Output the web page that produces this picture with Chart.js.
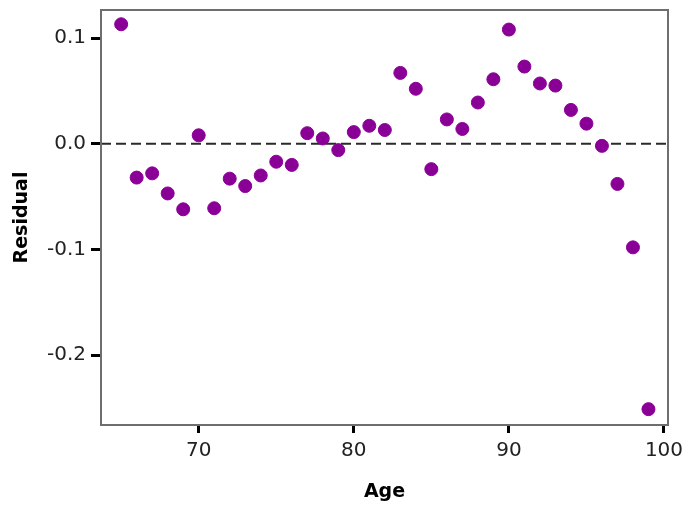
<!DOCTYPE html>
<html>
<head>
<meta charset="utf-8">
<title>Residual vs Age</title>
<script src="https://cdn.jsdelivr.net/npm/chart.js@4"></script>
<style>
  html, body { margin: 0; padding: 0; background: #fff; }
  #wrap { width: 695px; height: 514px; }
</style>
</head>
<body>
<div id="wrap"><canvas id="chart" width="695" height="514"></canvas></div>
<script>
// Data
const ages = [65, 66, 67, 68, 69, 70, 71, 72, 73, 74, 75, 76, 77, 78, 79, 80, 81, 82,
              83, 84, 85, 86, 87, 88, 89, 90, 91, 92, 93, 94, 95, 96, 97, 98, 99];
const residuals = [0.113, -0.032, -0.028, -0.047, -0.062, 0.008, -0.061, -0.033, -0.040,
                   -0.030, -0.017, -0.020, 0.010, 0.005, -0.006, 0.011, 0.017, 0.013,
                   0.067, 0.052, -0.024, 0.023, 0.014, 0.039, 0.061, 0.108, 0.073,
                   0.057, 0.055, 0.032, 0.019, -0.002, -0.038, -0.098, -0.251];
const xTicks = [70, 80, 90, 100];
const yTicks = [-0.2, -0.1, 0.0, 0.1];
const xRange = [63.7, 100.26];
const yRange = [-0.266, 0.1265];

// Box around the plot area
const framePlugin = {
    id: 'frame',
    afterDraw(chart) {
        const { ctx, chartArea } = chart;
        ctx.save();
        ctx.strokeStyle = '#6e6e6e';
        ctx.lineWidth = 2;
        ctx.strokeRect(chartArea.left, chartArea.top,
                       chartArea.right - chartArea.left, chartArea.bottom - chartArea.top);
        ctx.restore();
    }
};

const tickFont = { family: 'DejaVu Sans', size: 20 };
const titleFont = { family: 'DejaVu Sans', size: 19, weight: 'bold' };

new Chart(document.getElementById('chart'), {
    type: 'scatter',
    data: {
        datasets: [
            {
                label: 'Residual',
                data: ages.map((a, i) => ({ x: a, y: residuals[i] })),
                backgroundColor: '#8a0096',
                borderColor: '#8a0096',
                pointRadius: 6.5,
                pointHoverRadius: 6.5,
                order: 1
            },
            {
                label: 'zero',
                type: 'line',
                data: [{ x: xRange[0], y: 0 }, { x: xRange[1], y: 0 }],
                borderColor: '#2a2a2a',
                borderWidth: 2,
                borderDash: [10, 5],
                pointRadius: 0,
                order: 2
            }
        ]
    },
    options: {
        responsive: false,
        animation: false,
        layout: { padding: { left: 0, top: 10, right: 27, bottom: 0 } },
        plugins: {
            legend: { display: false },
            tooltip: { enabled: false }
        },
        scales: {
            x: {
                type: 'linear',
                min: xRange[0],
                max: xRange[1],
                afterBuildTicks: s => { s.ticks = xTicks.map(v => ({ value: v })); },
                afterFit: s => { s.height = 89; s.paddingLeft = 0; s.paddingRight = 0; },
                grid: { drawOnChartArea: false, tickLength: 8, tickWidth: 3, tickColor: '#000' },
                border: { color: '#6e6e6e', width: 2 },
                ticks: { font: tickFont, color: '#222', padding: 6, maxRotation: 0 },
                title: { display: true, text: 'Age', font: titleFont, color: '#000', padding: { top: 0, bottom: 11 } }
            },
            y: {
                type: 'linear',
                min: yRange[0],
                max: yRange[1],
                afterBuildTicks: s => { s.ticks = yTicks.map(v => ({ value: v })); },
                afterFit: s => { s.width = 101; s.paddingTop = 0; s.paddingBottom = 0; },
                grid: { drawOnChartArea: false, tickLength: 10, tickWidth: 3, tickColor: '#000' },
                border: { color: '#6e6e6e', width: 2 },
                ticks: { font: tickFont, color: '#222', padding: 5, callback: v => v.toFixed(1) },
                title: { display: true, text: 'Residual', font: titleFont, color: '#000', padding: { top: 11, bottom: 0 } }
            }
        }
    },
    plugins: [framePlugin]
});
</script>
</body>
</html>
